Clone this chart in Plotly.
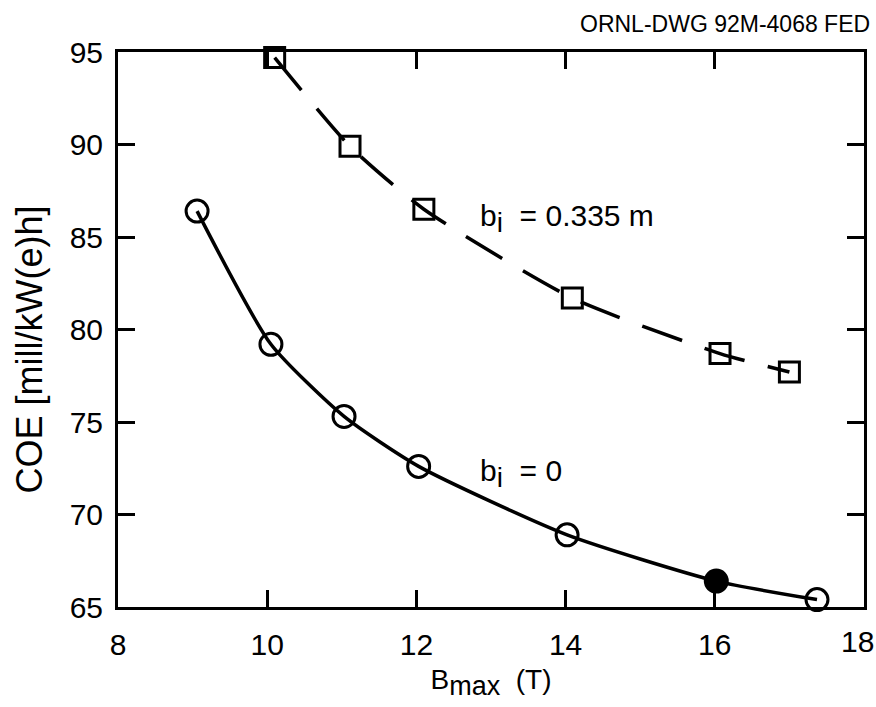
import plotly.graph_objects as go

# Magnetic field at the coil (T)
b_max_open = [9.06, 10.05, 11.03, 12.03, 14.02, 16.02, 17.37]
coe_open = [86.4, 79.2, 75.3, 72.6, 68.9, 66.4, 65.4]
symbols_open = ["circle-open", "circle-open", "circle-open", "circle-open",
                "circle-open", "circle", "circle-open"]

b_max_wall = [10.1, 11.11, 12.1, 14.09, 16.07, 17.0]
coe_wall = [94.7, 89.9, 86.5, 81.7, 78.7, 77.7]

x_ticks = [8, 10, 12, 14, 16, 18]
y_ticks = [65, 70, 75, 80, 85, 90, 95]

FONT = "Arial"

# the last x label sits at the right edge of the page; it is drawn separately,
# nudged inward, so it stays inside the page
x_ticktext = [str(v) for v in x_ticks]
last_x_label = x_ticktext[-1]
x_ticktext[-1] = ""


def sub(text, size):
    """Subscript kept at nearly full size, as in the typeset labels."""
    return f"<sub><span style='font-size:{size}px'>{text}</span></sub>"


fig = go.Figure()

fig.add_trace(go.Scatter(
    x=b_max_wall, y=coe_wall, mode="lines+markers",
    line=dict(color="black", width=3.5, dash="42px,24px", shape="spline", smoothing=0.6),
    marker=dict(symbol="square-open", size=20, color="black", line=dict(width=3, color="black")),
    showlegend=False, cliponaxis=False,
))

fig.add_trace(go.Scatter(
    x=b_max_open, y=coe_open, mode="lines+markers",
    line=dict(color="black", width=3.5, shape="spline", smoothing=0.6),
    marker=dict(symbol=symbols_open, size=22, color="black", line=dict(width=3, color="black")),
    showlegend=False, cliponaxis=False,
))

axis_common = dict(
    showline=True, linecolor="black", linewidth=3, mirror="ticks",
    ticks="inside", ticklen=17, tickwidth=2.5, tickcolor="black",
    showgrid=False, zeroline=False, automargin=False,
    tickfont=dict(family=FONT, size=30, color="black"),
)

fig.update_xaxes(
    range=[8, 18], tickvals=x_ticks, ticktext=x_ticktext,
    ticklabelstandoff=9,
    title=dict(text="B" + sub("max", 27) + "  (T)", font=dict(family=FONT, size=28, color="black"),
               standoff=10),
    **axis_common,
)
fig.update_yaxes(
    range=[65, 95], tickvals=y_ticks, ticktext=[str(v) for v in y_ticks],
    ticklabelstandoff=6,
    **axis_common,
)

fig.add_annotation(x=x_ticks[-1], y=0, xref="x", yref="paper", xanchor="center", yanchor="middle",
                   xshift=-7, yshift=-34, text=last_x_label, showarrow=False,
                   font=dict(family=FONT, size=30, color="black"))

# y-axis title, placed as rotated text
fig.add_annotation(x=0, y=0.5, xref="paper", yref="paper", xanchor="center", yanchor="middle",
                   xshift=-89, yshift=-20, textangle=-90, showarrow=False,
                   text="COE [mill/kW(e)h]", font=dict(family=FONT, size=36, color="black"))

fig.add_annotation(x=12.83, y=86.0, xref="x", yref="y", text="b" + sub("i", 28) + "  = 0.335 m",
                   showarrow=False, xanchor="left", yanchor="middle",
                   font=dict(family=FONT, size=30, color="black"))
fig.add_annotation(x=12.82, y=72.2, xref="x", yref="y", text="b" + sub("i", 28) + "  = 0",
                   showarrow=False, xanchor="left", yanchor="middle",
                   font=dict(family=FONT, size=30, color="black"))
fig.add_annotation(x=1.0, y=1.0, xref="paper", yref="paper", xanchor="right", yanchor="bottom",
                   xshift=8, yshift=13, text="ORNL-DWG 92M-4068 FED", showarrow=False,
                   font=dict(family=FONT, size=23, color="black"))

fig.update_layout(
    width=876, height=707,
    margin=dict(l=118, r=12, t=52, b=100, autoexpand=False),
    paper_bgcolor="white", plot_bgcolor="white",
)

fig.write_html("out.html")
